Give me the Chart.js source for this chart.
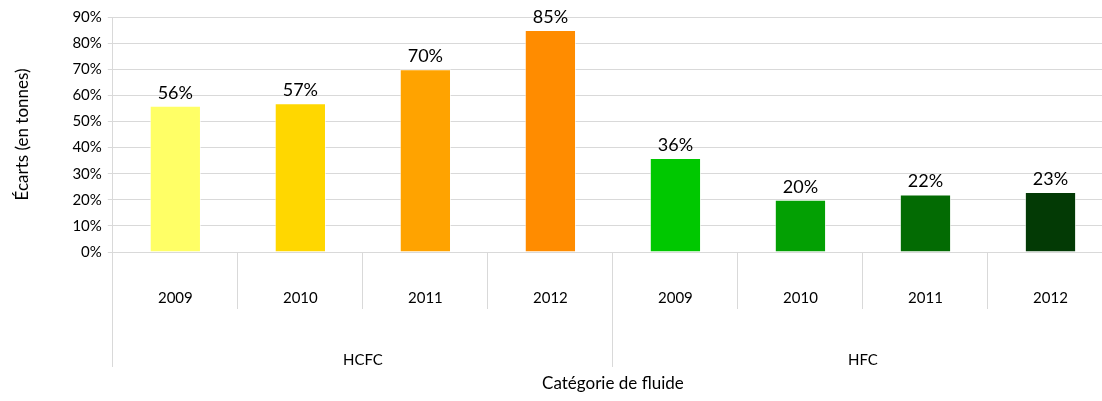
<!DOCTYPE html>
<html>
<head>
<meta charset="utf-8">
<script src="https://cdn.jsdelivr.net/npm/chart.js@4/dist/chart.umd.min.js"></script>
<style>
  html, body { margin: 0; padding: 0; background: #fff; overflow: hidden; }
  #wrap { position: relative; width: 1120px; height: 401px; }
</style>
</head>
<body>
<div id="wrap"><canvas id="c" width="1120" height="401"></canvas></div>
<script>
// Écarts par catégorie de fluide et par année
const years = ["2009", "2010", "2011", "2012", "2009", "2010", "2011", "2012"];
const groups = ["HCFC", "HFC"];
const ecarts = [56, 57, 70, 85, 36, 20, 22, 23];
const barColors = ["#FFFF66", "#FFD700", "#FFA300", "#FF8C00", "#00C800", "#03A003", "#036B03", "#033A05"];
const yTicks = [0, 10, 20, 30, 40, 50, 60, 70, 80, 90];

const FONT = "Lato, 'Open Sans', sans-serif";
const GRID = "#d9d9d9";

// valeurs au-dessus des barres + libellés des deux niveaux de l'axe x
const labelsPlugin = {
    id: "labelsPlugin",
    afterDatasetsDraw(chart) {
        const ctx = chart.ctx;
        const meta = chart.getDatasetMeta(0);
        ctx.save();
        ctx.fillStyle = "#000";
        ctx.textAlign = "center";
        ctx.font = "18px " + FONT;
        ctx.textBaseline = "bottom";
        meta.data.forEach((bar, i) => {
            ctx.fillText(ecarts[i] + "%", bar.x, bar.y - 4);
        });
        ctx.font = "15px " + FONT;
        ctx.textBaseline = "middle";
        const x = chart.scales.x, x2 = chart.scales.x2;
        years.forEach((y, i) => ctx.fillText(y, x.getPixelForTick(i), x.top + 46));
        groups.forEach((g, i) => ctx.fillText(g, x2.getPixelForTick(i), x2.top + 51));
        ctx.restore();
    },
};

new Chart(document.getElementById("c").getContext("2d"), {
    type: "bar",
    data: {
        labels: years,
        datasets: [{
            data: ecarts,
            backgroundColor: barColors,
            borderColor: "rgba(255,255,255,0.6)",
            borderWidth: 1,
            barPercentage: 0.41,
            categoryPercentage: 1,
        }],
    },
    options: {
        responsive: false,
        animation: false,
        layout: { padding: { left: 8, top: 17, right: 7, bottom: 3 } },
        plugins: { legend: { display: false }, tooltip: { enabled: false } },
        scales: {
            y: {
                min: 0,
                max: 90,
                afterBuildTicks: (s) => { s.ticks = yTicks.map((v) => ({ value: v })); },
                ticks: {
                    callback: (v) => v + "%",
                    font: { family: FONT, size: 15 },
                    color: "#000",
                    padding: 6,
                },
                grid: { color: GRID, tickLength: 5, lineWidth: 1 },
                border: { color: GRID },
                title: {
                    display: true,
                    text: "Écarts (en tonnes)",
                    font: { family: FONT, size: 17 },
                    color: "#000",
                    padding: { bottom: 34 },
                },
            },
            x: {
                offset: true,
                grid: { offset: true, drawOnChartArea: false, color: GRID, tickLength: 57 },
                border: { color: GRID },
                ticks: { display: false },
                afterFit: (s) => { s.height = 57; },
            },
            x2: {
                type: "category",
                position: "bottom",
                labels: groups,
                offset: true,
                grid: { offset: true, drawOnChartArea: false, color: GRID, tickLength: 58 },
                border: { display: false },
                ticks: { display: false },
                afterFit: (s) => { s.height = 89; },
                title: {
                    display: true,
                    text: "Catégorie de fluide",
                    font: { family: FONT, size: 17 },
                    color: "#000",
                    padding: { top: 6 },
                },
            },
        },
    },
    plugins: [labelsPlugin],
});
</script>
</body>
</html>
